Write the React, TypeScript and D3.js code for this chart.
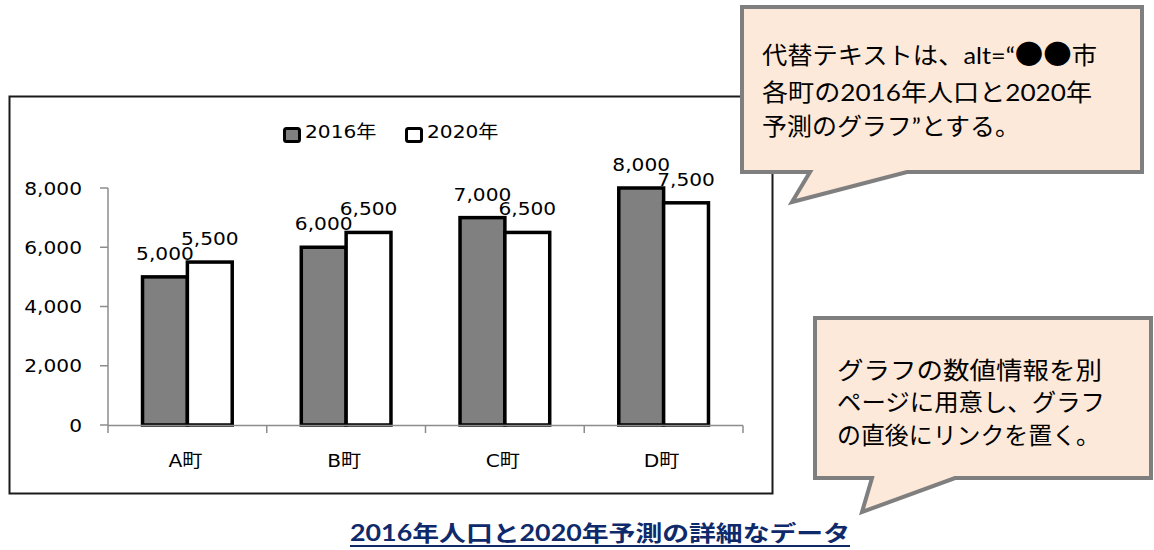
import React from "react";
import * as d3 from "d3";

const categories = ["A町", "B町", "C町", "D町"];
const seriesNames = ["2016年", "2020年"];
const values2016 = [5000, 6000, 7000, 8000];
const values2020 = [5500, 6500, 6500, 7500];
const yTicks = [0, 2000, 4000, 6000, 8000];
const callout1Parts = [["代替テキストは、alt=“", "●●", "市"]];
const callout1Lines = ["代替テキストは、alt=“●●市", "各町の2016年人口と2020年", "予測のグラフ”とする。"];
const callout2Lines = ["グラフの数値情報を別", "ページに用意し、グラフ", "の直後にリンクを置く。"];
const linkText = "2016年人口と2020年予測の詳細なデータ";

const SX = 1.12;
const chartFont = "'DejaVu Sans', 'Noto Sans CJK JP', sans-serif";
const calloutFont = "Lato, 'Noto Sans CJK JP', sans-serif";

function SText({ x, y, anchor = "middle", size = 18, children }: any) {
  return (
    <text
      transform={`translate(${x},${y}) scale(${SX},1)`}
      textAnchor={anchor}
      fontSize={size}
      fontFamily={chartFont}
      fill="#000"
    >
      {children}
    </text>
  );
}

export default function App() {
  const x0 = d3.scaleBand<string>().domain(categories).range([108, 743]).padding(0);
  const bw = x0.bandwidth();
  const gw = bw * 0.565;
  const x1 = d3.scaleBand<string>().domain(seriesNames).range([(bw - gw) / 2, (bw + gw) / 2]).padding(0);
  const y = d3.scaleLinear().domain([0, 8000]).range([425, 188]);
  const fills = ["#808080", "#ffffff"];
  const series = [values2016, values2020];
  const axisColor = "#8c8c8c";

  const boundaries = [...categories.map((c) => x0(c) as number), 743];

  const callout1 = "M742,7 L1142,7 L1142,172 L907,172 L792,202 L810,172 L742,172 Z";
  const callout2 = "M815,318 L1151,318 L1151,478 L955,478 L862,512 L872,478 L815,478 Z";
  const c1Widths = [335, 330, 258];
  const c2Widths = [265, 268, 263];

  return (
    <svg width={1154} height={550} style={{ position: "absolute", left: 0, top: 0, display: "block", background: "#fff" }}>
      {/* chart frame */}
      <rect x={9.5} y={96.5} width={763} height={397} fill="#fff" stroke="#1a1a1a" strokeWidth={2} />

      {/* legend */}
      {seriesNames.map((s, i) => {
        const lx = [283, 405][i];
        return (
          <g key={s}>
            <rect x={lx + 1.5} y={128.5} width={15} height={13} rx={2} fill={fills[i]} stroke="#000" strokeWidth={3} />
            <SText x={lx + 22} y={137.5} anchor="start" size={18}>{s}</SText>
          </g>
        );
      })}

      {/* bars */}
      {categories.map((c, ci) => (
        <g key={c} transform={`translate(${x0(c)},0)`}>
          {series.map((vals, si) => {
            const bx = x1(seriesNames[si]) as number;
            const w = x1.bandwidth();
            return (
              <rect
                key={si}
                x={bx}
                y={y(vals[ci])}
                width={w}
                height={y(0) - y(vals[ci])}
                fill={fills[si]}
                stroke="#000"
                strokeWidth={3.5}
              />
            );
          })}
        </g>
      ))}

      {/* axes */}
      <line x1={108} x2={108} y1={188} y2={425.5} stroke={axisColor} strokeWidth={1.5} />
      <line x1={108} x2={743} y1={425.5} y2={425.5} stroke={axisColor} strokeWidth={1.5} />
      {yTicks.map((t) => (
        <g key={t}>
          <line x1={100} x2={108} y1={y(t)} y2={y(t)} stroke={axisColor} strokeWidth={1.5} />
          <SText x={82} y={y(t) + 6.5} anchor="end" size={18}>{d3.format(",")(t)}</SText>
        </g>
      ))}
      {boundaries.map((bx, i) => (
        <line key={i} x1={bx} x2={bx} y1={425.5} y2={433} stroke={axisColor} strokeWidth={1.5} />
      ))}
      {categories.map((c) => (
        <SText key={c} x={(x0(c) as number) + bw / 2 - 2} y={467} size={18}>{c}</SText>
      ))}

      {/* data labels */}
      {categories.map((c, ci) =>
        series.map((vals, si) => {
          const cx = (x0(c) as number) + (x1(seriesNames[si]) as number) + x1.bandwidth() / 2;
          return (
            <SText key={c + si} x={cx} y={y(vals[ci]) - 17} size={18}>
              {d3.format(",")(vals[ci])}
            </SText>
          );
        })
      )}

      {/* callouts */}
      <path d={callout1} fill="#fde9d9" stroke="#7f7f7f" strokeWidth={4} strokeLinejoin="miter" />
      {callout1Lines.map((l, i) =>
        i === 0 ? (
          <text
            key={i}
            x={762}
            y={64}
            fontSize={24}
            fontFamily={calloutFont}
            textLength={c1Widths[i]}
            lengthAdjust="spacingAndGlyphs"
            fill="#000"
          >
            <tspan>{callout1Parts[0][0]}</tspan>
            <tspan fontFamily="'Noto Sans CJK JP', sans-serif" fontSize={27}>{callout1Parts[0][1]}</tspan>
            <tspan>{callout1Parts[0][2]}</tspan>
          </text>
        ) : (
          <text
            key={i}
            x={762}
            y={[64, 101, 135][i]}
            fontSize={24}
            fontFamily={calloutFont}
            textLength={c1Widths[i]}
            lengthAdjust="spacingAndGlyphs"
            fill="#000"
          >
            {l}
          </text>
        )
      )}
      <path d={callout2} fill="#fde9d9" stroke="#7f7f7f" strokeWidth={4} strokeLinejoin="miter" />
      {callout2Lines.map((l, i) => (
        <text
          key={i}
          x={837}
          y={[379, 411, 444][i]}
          fontSize={24}
          fontFamily={calloutFont}
          textLength={c2Widths[i]}
          lengthAdjust="spacingAndGlyphs"
          fill="#000"
        >
          {l}
        </text>
      ))}

      {/* link */}
      <text
        x={350}
        y={541}
        fontSize={22}
        fontWeight="bold"
        fontFamily={calloutFont}
        fill="#0f2a6b"
        textLength={500}
        lengthAdjust="spacingAndGlyphs"
      >
        {linkText}
      </text>
      <line x1={350} x2={850} y1={546} y2={546} stroke="#0f2a6b" strokeWidth={2} />
    </svg>
  );
}
